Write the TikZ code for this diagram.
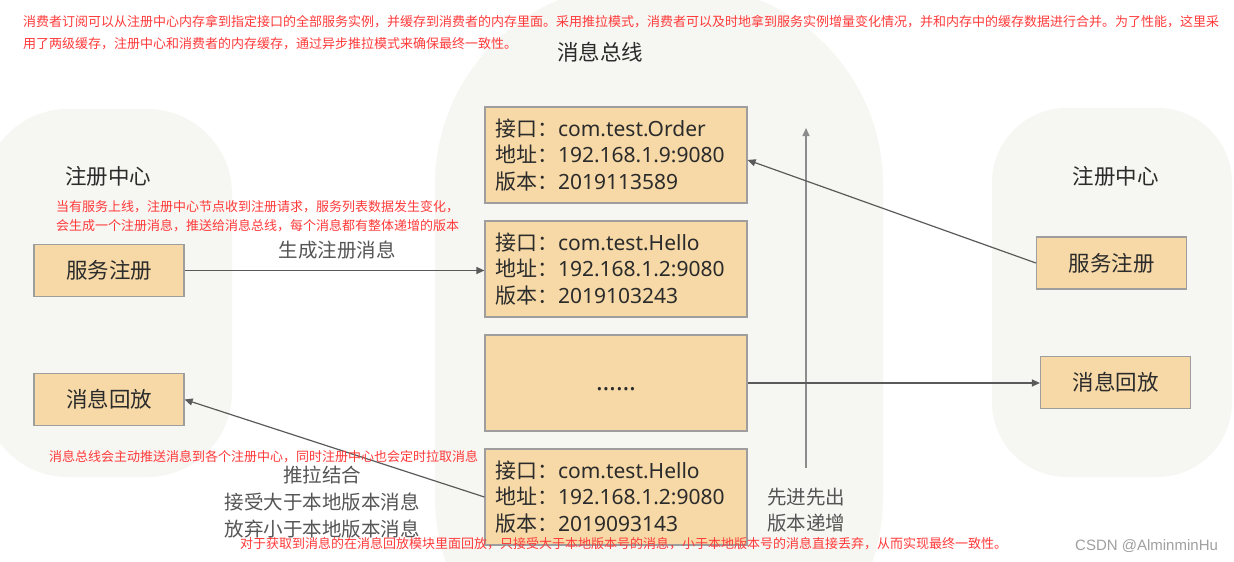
\documentclass[tikz,border=0pt]{standalone}
\usepackage{fontspec}
\setmainfont{Noto Sans CJK SC}
\newfontfamily\wmfont{Liberation Sans}
\newfontfamily\latf{Noto Sans}
\usetikzlibrary{arrows.meta,calc}
\definecolor{panel}{HTML}{F6F6F2}
\definecolor{boxfill}{HTML}{F6D9A7}
\definecolor{boxline}{HTML}{9E9E9E}
\definecolor{note}{HTML}{FF3A3A}
\definecolor{lbl}{HTML}{555555}
\definecolor{ink}{HTML}{2B2B2B}
\definecolor{arrowc}{HTML}{5A5A5A}
\definecolor{varrowc}{HTML}{8C8C8C}
\definecolor{wm}{HTML}{A0A0A0}
\newcommand{\lt}[1]{{\latf #1}}
\begin{document}
\begin{tikzpicture}[x=1pt,y=-1pt,
  smallbox/.style={draw=boxline,fill=boxfill,line width=1.2pt,inner sep=0pt,
    minimum width=150pt,minimum height=52pt,text=ink,font=\fontsize{21.5}{25}\selectfont},
  infobox/.style={draw=boxline,fill=boxfill,line width=1.2pt,inner xsep=10pt,inner ysep=0pt,
    minimum width=262pt,minimum height=96pt,text width=242pt,align=left,text=ink,
    font=\fontsize{21}{26.5}\selectfont},
  title/.style={text=ink,inner sep=0pt,font=\fontsize{21.5}{25}\selectfont},
  glabel/.style={text=lbl,inner sep=0pt,align=center,font=\fontsize{19.5}{27}\selectfont},
  rednote/.style={text=note,inner sep=0pt,anchor=west,align=left,font=\fontsize{13}{19}\selectfont},
  arr/.style={draw=arrowc,line width=1.2pt,-{Triangle[length=8pt,width=7pt]}},
  varr/.style={draw=varrowc,line width=1.2pt,-{Triangle[length=8pt,width=7pt]}}]
\useasboundingbox (0,0) rectangle (1234,562);
\fill[white] (0,0) rectangle (1234,562);
\begin{scope}
  \clip (0,0) rectangle (1234,562);
  \fill[panel,rounded corners=85pt] (-17,109) rectangle (232,477);
  \fill[panel,rounded corners=200pt] (435,-15) rectangle (883,697);
  \fill[panel,rounded corners=75pt] (992,108) rectangle (1232,477);
\end{scope}

% titles
\node[title] (tmid) at (600,52) {消息总线};
\node[title] (tleft) at (108,176) {注册中心};
\node[title] (tright) at (1115.5,176) {注册中心};

% boxes
\node[smallbox] (lsvc) at (109,270.5) {服务注册};
\node[smallbox] (lrep) at (109,399.5) {消息回放};
\node[smallbox] (rsvc) at (1111.5,263) {服务注册};
\node[smallbox] (rrep) at (1115.5,382.5) {消息回放};

\node[infobox] (b1) at (616,155) {接口：\lt{com.test.Order}\\地址：\lt{192.168.1.9:9080}\\版本：\lt{2019113589}};
\node[infobox] (b2) at (616,269) {接口：\lt{com.test.Hello}\\地址：\lt{192.168.1.2:9080}\\版本：\lt{2019103243}};
\node[infobox,align=center] (b3) at (616,383) {\raisebox{-7pt}[0pt][0pt]{\latf\fontsize{25}{25}\selectfont ……}};
\node[infobox] (b4) at (616,497) {接口：\lt{com.test.Hello}\\地址：\lt{192.168.1.2:9080}\\版本：\lt{2019093143}};

% vertical arrow
\coordinate (vbot) at (806,468);
\coordinate (vtop) at (806,128);
\draw[varr] (vbot) -- (vtop);

% connectors
\draw[arr] (lsvc.east) -- (lsvc.east -| b2.west);
\draw[arr] (rsvc.west) -- ([yshift=-5pt]b1.east);
\draw[arr] (b4.west) -- (lrep.east);
\draw[arr] (b3.east) -- (b3.east -| rrep.west);

% grey labels
\node[glabel] (lgen) at (337,250) {生成注册消息};
\node[glabel] (lpush) at (322,502) {推拉结合\\接受大于本地版本消息\\放弃小于本地版本消息};
\node[glabel,font=\fontsize{19.5}{26}\selectfont] (lfifo) at (806,510) {先进先出\\版本递增};

% red notes
\node[rednote,font=\fontsize{13}{22.5}\selectfont] (ntop) at (23,32.5) {消费者订阅可以从注册中心内存拿到指定接口的全部服务实例，并缓存到消费者的内存里面。采用推拉模式，消费者可以及时地拿到服务实例增量变化情况，并和内存中的缓存数据进行合并。为了性能，这里采\\用了两级缓存，注册中心和消费者的内存缓存，通过异步推拉模式来确保最终一致性。};
\node[rednote,font=\fontsize{13}{19}\selectfont] (nreg) at (56,216) {当有服务上线，注册中心节点收到注册请求，服务列表数据发生变化，\\会生成一个注册消息，推送给消息总线，每个消息都有整体递增的版本};
\node[rednote] (nbus) at (49,457) {消息总线会主动推送消息到各个注册中心，同时注册中心也会定时拉取消息};
\node[rednote] (nrep) at (240,543.5) {对于获取到消息的在消息回放模块里面回放，只接受大于本地版本号的消息，小于本地版本号的消息直接丢弃，从而实现最终一致性。};

% watermark
\node[text=wm,inner sep=0pt,anchor=west,font=\wmfont\fontsize{15}{18}\selectfont] (wmk) at (1075,546) {CSDN @AlminminHu};
\end{tikzpicture}
\end{document}
